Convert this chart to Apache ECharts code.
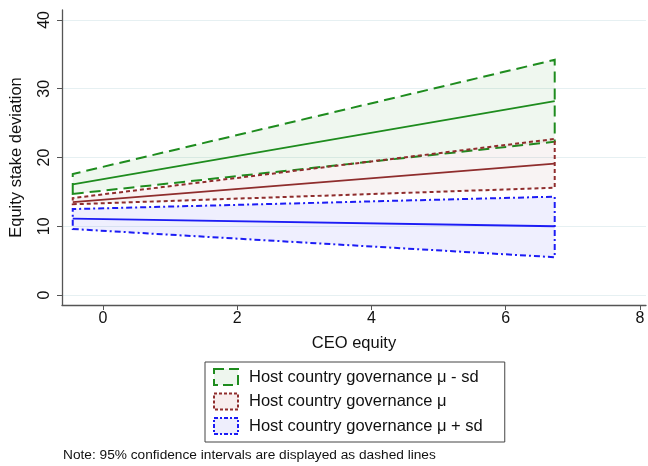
<!DOCTYPE html>
<html>
<head>
<meta charset="utf-8">
<script src="https://cdn.jsdelivr.net/npm/echarts@6/dist/echarts.min.js"></script>
<style>
  html, body { margin: 0; padding: 0; background: #fff; }
  #chart { width: 648px; height: 466px; }
</style>
</head>
<body>
<div id="chart"></div>
<script>
// predicted equity stake deviation vs CEO equity, by host-country governance level
var ceoEquity = [-0.45, 6.73];

var lowMean = [16.1, 28.2];
var lowLower = [14.7, 22.3];
var lowUpper = [17.6, 34.2];

var midMean = [13.5, 19.1];
var midLower = [13.2, 15.6];
var midUpper = [14.1, 22.7];

var highMean = [11.1, 10.0];
var highLower = [9.6, 5.5];
var highUpper = [12.5, 14.3];

var xTicks = [0, 2, 4, 6, 8];
var yTicks = [0, 10, 20, 30, 40];

var groupNames = [
  'Host country governance \u03bc - sd',
  'Host country governance \u03bc',
  'Host country governance \u03bc + sd'
];

var GREEN = '#1e8c1e', RED = '#8f2d2d', BLUE = '#1c1cf5';
var FONT = '"Liberation Sans", Arial, sans-serif';

function bandSeries(name, lower, upper, color, fill, dash) {
  return {
    name: name,
    type: 'custom',
    data: ceoEquity.map(function (x, i) { return [x, lower[i], upper[i]]; }),
    encode: { x: 0, y: [1, 2] },
    renderItem: function (params, api) {
      if (params.dataIndex !== 0) return null;
      var pts = [];
      for (var i = 0; i < ceoEquity.length; i++) pts.push(api.coord([ceoEquity[i], lower[i]]));
      for (var j = ceoEquity.length - 1; j >= 0; j--) pts.push(api.coord([ceoEquity[j], upper[j]]));
      return {
        type: 'polygon',
        shape: { points: pts },
        style: { fill: fill, stroke: color, lineWidth: 2, lineDash: dash }
      };
    },
    z: 2
  };
}

function meanSeries(name, vals, color) {
  return {
    name: name,
    type: 'line',
    data: ceoEquity.map(function (x, i) { return [x, vals[i]]; }),
    symbol: 'none',
    lineStyle: { color: color, width: 1.8 },
    z: 3
  };
}

var chart = echarts.init(document.getElementById('chart'));
chart.setOption({
  animation: false,
  textStyle: { fontFamily: FONT },
  grid: { left: 60, right: 2, top: 10, bottom: 161 },
  xAxis: {
    type: 'value',
    min: -0.61,
    max: 8.09,
    name: 'CEO equity',
    nameLocation: 'middle',
    nameGap: 30,
    nameTextStyle: { fontSize: 16.5, color: '#111' },
    axisLine: { show: true, onZero: false, lineStyle: { color: '#555', width: 1.3 } },
    axisTick: { show: true, length: 5, customValues: xTicks, lineStyle: { color: '#555' } },
    axisLabel: { customValues: xTicks, fontSize: 16, color: '#111', margin: 6 },
    splitLine: { show: false }
  },
  yAxis: {
    type: 'value',
    min: -1.45,
    max: 41.45,
    name: 'Equity stake deviation',
    nameLocation: 'middle',
    nameRotate: 90,
    nameGap: 37,
    nameTextStyle: { fontSize: 16.5, color: '#111' },
    axisLine: { show: true, onZero: false, lineStyle: { color: '#555', width: 1.3 } },
    axisTick: { show: true, length: 5, customValues: yTicks, lineStyle: { color: '#555' } },
    axisLabel: { customValues: yTicks, fontSize: 16, color: '#111', rotate: 90, margin: 9 },
    splitLine: { show: true, lineStyle: { color: '#e6f0f2', width: 1.2 } }
  },
  legend: {
    orient: 'vertical',
    left: 205,
    top: 362,
    padding: [6, 22, 7, 8],
    itemWidth: 24,
    itemHeight: 16,
    itemGap: 6.5,
    borderColor: '#444',
    borderWidth: 1,
    textStyle: { fontSize: 16.5, color: '#111', padding: [0, 0, 0, 6] },
    data: [
      { name: groupNames[0], icon: 'rect', itemStyle: { color: '#eef6ee', borderColor: GREEN, borderWidth: 2, borderType: [10, 5] } },
      { name: groupNames[1], icon: 'rect', itemStyle: { color: '#f8eeee', borderColor: RED, borderWidth: 2, borderType: [3, 2] } },
      { name: groupNames[2], icon: 'rect', itemStyle: { color: '#eeeefc', borderColor: BLUE, borderWidth: 2, borderType: [4, 2, 2, 2] } }
    ]
  },
  graphic: [{
    type: 'text',
    left: 63,
    top: 448,
    style: { text: 'Note: 95% confidence intervals are displayed as dashed lines', font: '13.7px ' + FONT, fill: '#111' }
  }],
  series: [
    bandSeries(groupNames[0], lowLower, lowUpper, GREEN, 'rgba(30,140,30,0.07)', [11, 6]),
    bandSeries(groupNames[1], midLower, midUpper, RED, 'rgba(143,45,45,0.06)', [4, 3]),
    bandSeries(groupNames[2], highLower, highUpper, BLUE, 'rgba(28,28,245,0.07)', [6, 3, 2, 3]),
    meanSeries('mean low', lowMean, GREEN),
    meanSeries('mean mid', midMean, RED),
    meanSeries('mean high', highMean, BLUE)
  ]
});
</script>
</body>
</html>
